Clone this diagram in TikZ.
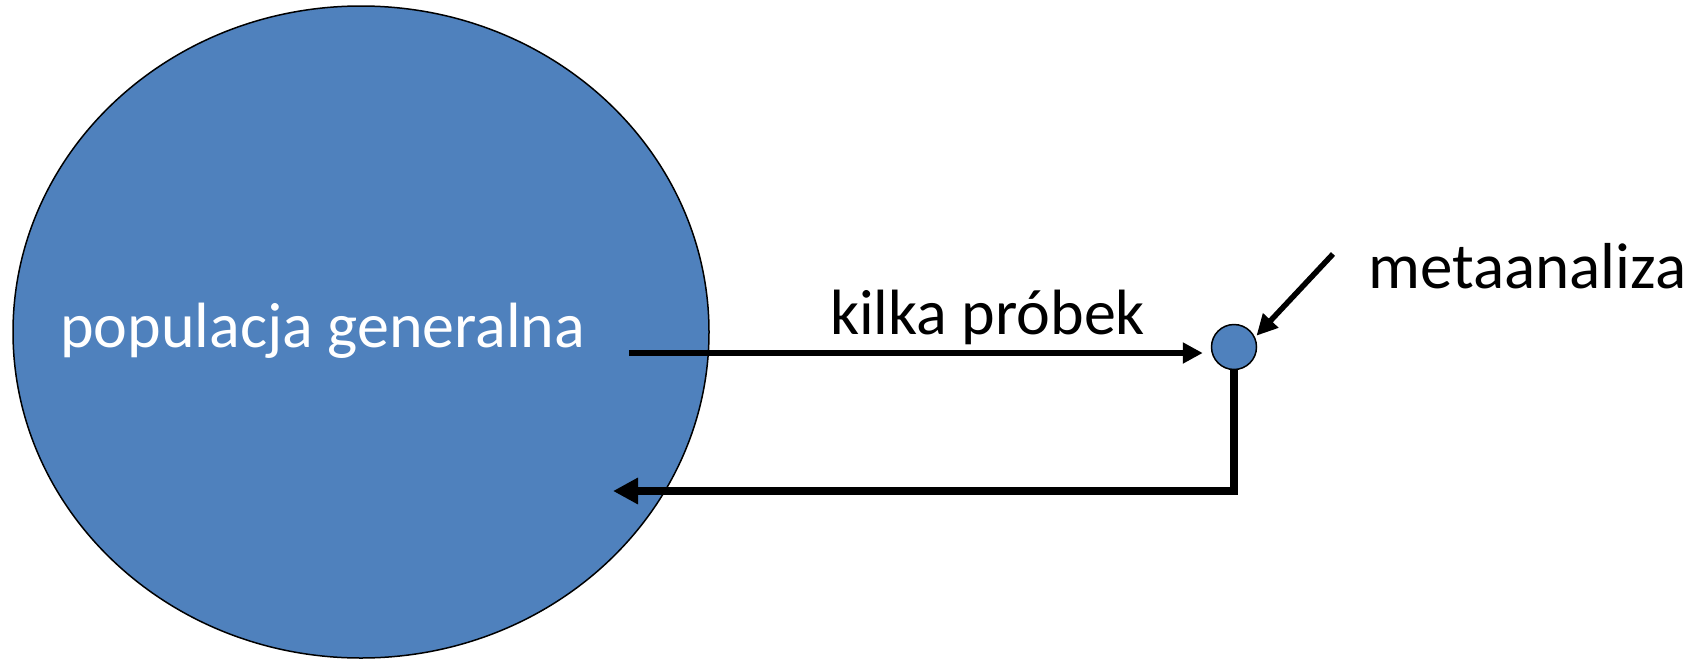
\documentclass[tikz,border=0pt]{standalone}
\usepackage{fontspec}
\setmainfont{Carlito}
\usetikzlibrary{arrows.meta,shapes.geometric}
\definecolor{popblue}{HTML}{4F81BD}
\begin{document}
\begin{tikzpicture}[x=1pt,y=-1pt,
  lbl/.style={anchor=base west,inner sep=0pt,font=\fontsize{64}{72}\selectfont},
  conn/.style={draw=black}]
\useasboundingbox (0,0) rectangle (1686,659);
\node[ellipse,draw=black,line width=1.5pt,fill=popblue,minimum width=696pt,minimum height=652pt,inner sep=0pt] (pop) at (361,332) {};
\node[circle,draw=black,line width=1.5pt,fill=popblue,minimum size=45pt,inner sep=0pt] (s) at (1234,347) {};
\node[lbl,text=white] (poplbl) at (60,347) {populacja generalna};
\node[lbl] (kilka) at (830,334) {kilka próbek};
\node[lbl,font=\fontsize{65}{72}\selectfont] (meta) at (1368,288) {metaanaliza};
\coordinate (a1) at (629,353);
\coordinate (ret) at (613,491);
\coordinate (m1) at (1333,254);
\draw[conn,line width=6pt,-{Triangle[length=20pt,width=20pt]},shorten >=8pt] (a1) -- (s.west |- a1);
\draw[conn,line width=8pt,-{Triangle[length=25pt,width=25pt]}] (s.south) |- (ret);
\draw[conn,line width=5.5pt,-{Triangle[length=21pt,width=20pt]},shorten >=2pt] (m1) -- (s.25);
\end{tikzpicture}
\end{document}
